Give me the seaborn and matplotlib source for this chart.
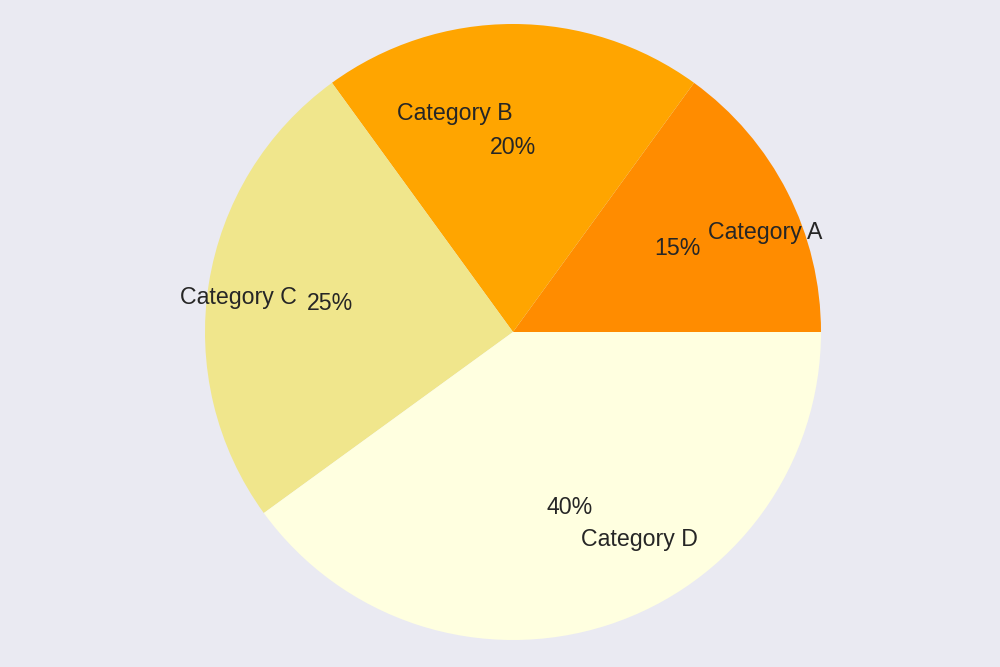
import matplotlib
matplotlib.use("Agg")
import matplotlib.pyplot as plt
import seaborn as sns

categories = ["Category A", "Category B", "Category C", "Category D"]
values = [15, 20, 25, 40]
colors = ["#FF8C00", "#FFA500", "#F0E68C", "#FFFFE0"]

sns.set_theme(style="darkgrid")
plt.rcParams["font.family"] = ["Liberation Sans", "DejaVu Sans"]

fig = plt.figure(figsize=(10, 6.67), dpi=100)
fig.patch.set_facecolor("#EAEAF2")
ax = fig.add_axes([0, 0, 1, 1])
ax.pie(values, labels=categories, colors=colors, autopct="%1.0f%%",
       labeldistance=0.71, pctdistance=0.6, startangle=0,
       wedgeprops={"linewidth": 0, "edgecolor": "none"},
       textprops={"fontsize": 16.7, "color": "#262626"})
r = 308.0
ax.set_xlim(-513 / r, 487 / r)
ax.set_ylim(-335 / r, 332 / r)
ax.set_aspect("auto")
ax.axis("off")
fig.savefig("out.png", dpi=100, facecolor=fig.get_facecolor())
